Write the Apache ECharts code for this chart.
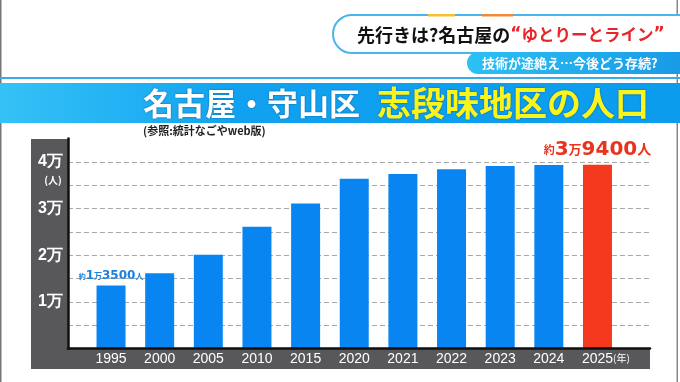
<!DOCTYPE html>
<html><head><meta charset="utf-8">
<script src="https://cdn.jsdelivr.net/npm/echarts@6/dist/echarts.min.js"></script>
<style>html,body{margin:0;padding:0;background:#fff}#c{width:680px;height:382px}</style>
</head><body><div id="c"></div>
<script>
// ---- data ----
const years = ['1995','2000','2005','2010','2015','2020','2021','2022','2023','2024','2025'];
const population = [13500, 16100, 20100, 26100, 31050, 36400, 37400, 38400, 39100, 39300, 39400];
const highlightIndex = 10;          // 2025 (red)
const labeledIndices = [0, 10];     // bars with "約…人" labels
const yMin = 0, yMax = 45000, yStep = 5000;
const headlineA = '先行きは?名古屋の';
const headlineB = 'ゆとりーとライン';
const subHeadline = '技術が途絶え…今後どう存続?';
const titleWhite = '名古屋・守山区';
const titleYellow = '志段味地区の人口';
const sourceNote = '(参照:統計なごやweb版)';
const yUnit = '(人)';
const xUnit = '(年)';

// ---- style ----
const BLUE = '#0985f2', RED = '#f4391f', PANEL = '#58585a';
const JP = '"Noto Sans CJK JP", sans-serif';
const NUM = '"Liberation Sans", Arial, sans-serif';

function popLabelText(v) {
  const man = Math.floor(v / 10000), rest = v % 10000;
  return '{a|約}{n|' + man + '}{u|万}{n|' + rest + '}{p|人}';
}
function labelCfg(i) {
  if (!labeledIndices.includes(i)) return { show: false };
  const big = i === highlightIndex;
  const col = big ? '#e8331d' : '#1a80e0';
  const s = big ? 1 : 0.6;
  const tok = (fs, fam, lift) => ({ fontSize: Math.round(fs * s), fontFamily: fam, fontWeight: 'bold', color: col,
    verticalAlign: 'bottom', padding: [0, 0, Math.round(lift * s), 0] });
  return {
    show: true, position: 'top', distance: big ? 5 : 4,
    formatter: popLabelText(population[i]),
    rich: { a: tok(11, JP, 4), n: tok(20, '"DejaVu Sans", sans-serif', 0), u: tok(13, JP, 4), p: tok(14, JP, 4) }
  };
}

const barData = population.map((v, i) => ({
  value: v,
  itemStyle: { color: i === highlightIndex ? RED : BLUE },
  label: labelCfg(i)
}));

const chart = echarts.init(document.getElementById('c'), null, { renderer: 'canvas' });
chart.setOption({
  animation: false,
  backgroundColor: '#fff',
  grid: [
    { left: 86.7, right: 58.2, top: 138.5, bottom: 33.5 },                          // bars
    { left: 68, right: 30, top: 138.5, bottom: 33.5, show: true, backgroundColor: '#fff', borderWidth: 0 } // frame
  ],
  xAxis: [
    { type: 'category', gridIndex: 0, data: years,
      axisLine: { show: false }, axisTick: { show: false },
      axisLabel: { color: '#fff', fontFamily: '"Liberation Sans Narrow", ' + NUM, fontSize: 14, margin: 4 } },
    { type: 'value', gridIndex: 1, min: 0, max: 1, z: 5,
      axisLine: { show: true, onZero: false, lineStyle: { color: '#111', width: 2.5 } },
      axisTick: { show: false }, axisLabel: { show: false }, splitLine: { show: false } }
  ],
  yAxis: [
    { type: 'value', gridIndex: 0, min: yMin, max: yMax, interval: yStep,
      axisLine: { show: false }, axisTick: { show: false }, axisLabel: { show: false }, splitLine: { show: false } },
    { type: 'value', gridIndex: 1, min: yMin, max: yMax, interval: yStep,
      axisLine: { show: true, lineStyle: { color: '#111', width: 2.5 } },
      axisTick: { show: false },
      axisLabel: { color: '#fff', fontFamily: NUM, fontWeight: 'bold', fontSize: 16, margin: 5,
        formatter: v => (v > 0 && v % 10000 === 0) ? (v / 10000) + '万' : '' },
      splitLine: { show: true, showMinLine: false, showMaxLine: false,
        lineStyle: { color: '#a8a8a8', type: [5, 3], width: 1 } } }
  ],
  series: [{
    type: 'bar', xAxisIndex: 0, yAxisIndex: 0, barWidth: 29, data: barData, z: 3
  }],
  graphic: [
    // frame lines of the TV still
    { type: 'rect', z: -20, shape: { x: 0, y: 0, width: 1.5, height: 382 }, style: { fill: '#777' } },
    { type: 'rect', z: -20, shape: { x: 676.5, y: 0, width: 1.5, height: 382 }, style: { fill: '#888' } },
    // dark panel behind the plot
    { type: 'rect', z: -10, shape: { x: 31, y: 139, width: 619, height: 230 }, style: { fill: PANEL } },
    // header pill
    { type: 'rect', z: 10, shape: { x: 333, y: 15, width: 370, height: 38, r: 19 },
      style: { fill: '#fff', stroke: '#4ab4ec', lineWidth: 2 } },
    { type: 'rect', z: 11, shape: { x: 428, y: 14, width: 27, height: 2.5 }, style: { fill: '#f2c233' } },
    { type: 'rect', z: 11, shape: { x: 482, y: 14, width: 31, height: 2.5 }, style: { fill: '#f08a3a' } },
    { type: 'text', z: 12, style: {
        x: 357, y: 35, textVerticalAlign: 'middle',
        text: '{k|' + headlineA + '}{q|“}{r|' + headlineB + '}{q|”}',
        rich: {
          k: { fontFamily: JP, fontWeight: 'bold', fontSize: 18, fill: '#111', color: '#111' },
          r: { fontFamily: JP, fontWeight: 'bold', fontSize: 16.5, fill: '#e8262a', color: '#e8262a' },
          q: { fontFamily: '"DejaVu Sans", sans-serif', fontWeight: 'bold', fontSize: 17, fill: '#e8262a', color: '#e8262a' }
        } } },
    // sub headline box
    { type: 'rect', z: 12, shape: { x: 467, y: 52, width: 230, height: 22, r: [11, 0, 0, 11] },
      style: { fill: new echarts.graphic.LinearGradient(0, 0, 1, 0, [{ offset: 0, color: '#2cc0f4' }, { offset: 1, color: '#1798e6' }]) } },
    { type: 'text', z: 13, style: { x: 482, y: 63.5, textVerticalAlign: 'middle', text: subHeadline,
        fill: '#fff', font: 'bold 13px ' + JP } },
    // separator line
    { type: 'rect', z: 10, shape: { x: 0, y: 77, width: 680, height: 2 }, style: { fill: '#39ace8' } },
    // title bar
    { type: 'rect', z: 10, shape: { x: 0, y: 83, width: 680, height: 40 },
      style: { fill: new echarts.graphic.LinearGradient(0, 0, 1, 0, [{ offset: 0, color: '#36c2f6' }, { offset: 0.35, color: '#10a2f0' }, { offset: 1, color: '#0b9cee' }]) } },
    { type: 'text', z: 11, style: {
        x: 143, y: 103, textVerticalAlign: 'middle', text: titleWhite,
        fill: '#fff', font: 'bold 31px ' + JP, textShadowColor: 'rgba(0,40,90,0.6)', textShadowBlur: 2 } },
    { type: 'text', z: 11, style: {
        x: 377, y: 103, textVerticalAlign: 'middle', text: titleYellow,
        fill: '#f8f41c', font: 'bold 34px ' + JP, textShadowColor: 'rgba(0,40,90,0.6)', textShadowBlur: 2 } },
    // source note
    { type: 'text', z: 10, style: { x: 143, y: 131, textVerticalAlign: 'middle', text: sourceNote,
        fill: '#222', font: 'bold 11px ' + JP } },
    // units
    { type: 'text', z: 10, style: { x: 53, y: 180, textAlign: 'center', textVerticalAlign: 'middle', text: yUnit,
        fill: '#fff', font: 'bold 10px ' + JP } },
    { type: 'text', z: 10, style: { x: 613, y: 358, textVerticalAlign: 'middle', text: xUnit,
        fill: '#fff', font: '10px ' + JP } }
  ]
});
</script></body></html>
